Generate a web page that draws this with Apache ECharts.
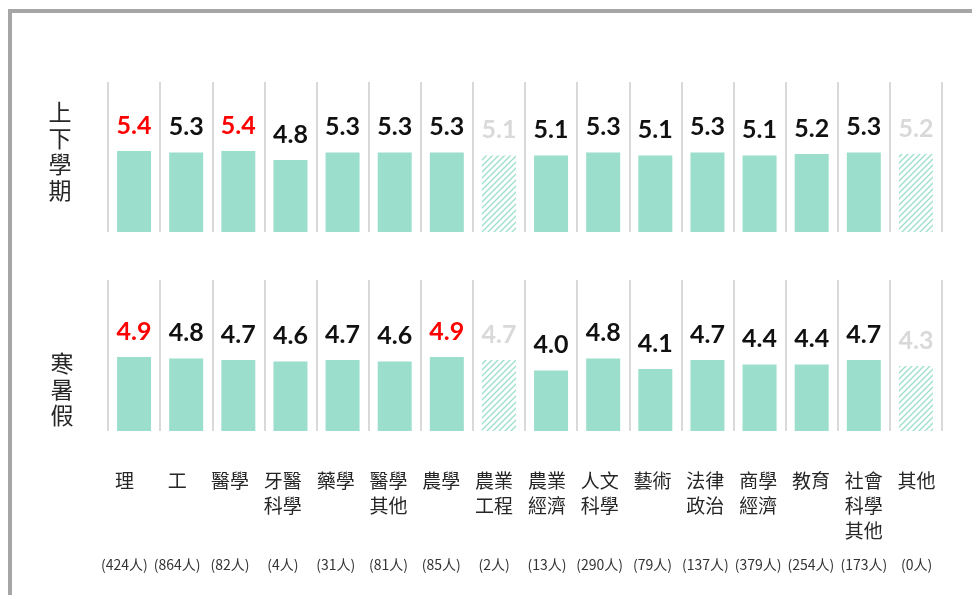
<!DOCTYPE html>
<html>
<head>
<meta charset="utf-8">
<script src="https://cdn.jsdelivr.net/npm/echarts@6/dist/echarts.min.js"></script>
<style>
  html, body { margin: 0; padding: 0; background: #fff; }
  #chart { width: 972px; height: 595px; }
</style>
</head>
<body>
<div id="chart"></div>
<script>
const categories = ['理', '工', '醫學', '牙醫\n科學', '藥學', '醫學\n其他', '農學', '農業\n工程', '農業\n經濟', '人文\n科學', '藝術', '法律\n政治', '商學\n經濟', '教育', '社會\n科學\n其他', '其他'];
const studentCounts = [424, 864, 82, 4, 31, 81, 85, 2, 13, 290, 79, 137, 379, 254, 173, 0];
const semesterValues = [5.4, 5.3, 5.4, 4.8, 5.3, 5.3, 5.3, 5.1, 5.1, 5.3, 5.1, 5.3, 5.1, 5.2, 5.3, 5.2];
const vacationValues = [4.9, 4.8, 4.7, 4.6, 4.7, 4.6, 4.9, 4.7, 4.0, 4.8, 4.1, 4.7, 4.4, 4.4, 4.7, 4.3];
// 樣本過少，以斜線表示
const lowSampleIndex = [7, 15];

const barColor = '#9bdecb';

// 斜線圖樣
let tile = document.createElement('canvas');
tile.width = 6;
tile.height = 6;
let ctx = tile.getContext('2d');
ctx.strokeStyle = barColor;
ctx.lineWidth = 1.3;
ctx.beginPath();
ctx.moveTo(-1, 7); ctx.lineTo(7, -1);
ctx.moveTo(-1, 1); ctx.lineTo(1, -1);
ctx.moveTo(5, 7); ctx.lineTo(7, 5);
ctx.stroke();
const hatch = { image: tile, repeat: 'repeat' };

function buildData(values) {
  let solid = values.filter((v, i) => !lowSampleIndex.includes(i));
  let top = Math.max(...solid);
  return values.map((v, i) => {
    if (lowSampleIndex.includes(i)) {
      return { value: v, itemStyle: { color: hatch }, label: { color: '#d9d9d9' } };
    }
    return { value: v, label: { color: v === top ? '#ff0000' : '#111111' } };
  });
}

function panelAxis(gridIndex) {
  return {
    type: 'category',
    gridIndex: gridIndex,
    data: categories,
    axisLine: { show: false },
    axisTick: { show: false },
    axisLabel: { show: false, interval: 0 },
    splitLine: { show: true, interval: 0, lineStyle: { color: '#d9d9d9', width: 2 } },
  };
}

function barSeries(axisIndex, values) {
  return {
    type: 'bar',
    xAxisIndex: axisIndex,
    yAxisIndex: axisIndex,
    barWidth: 34,
    itemStyle: { color: barColor },
    label: {
      show: true,
      position: 'top',
      distance: 13,
      fontFamily: 'Lato',
      fontWeight: 'bold',
      fontSize: 25,
      formatter: (p) => p.value.toFixed(1),
    },
    data: buildData(values),
  };
}

let myChart = echarts.init(document.getElementById('chart'));
let option;

option = {
  backgroundColor: '#ffffff',
  animation: false,
  grid: [
    { left: 108, right: 30, top: 82, height: 150 },
    { left: 108, right: 30, top: 280, height: 151 },
    { left: 98, right: 29, top: 420, height: 10 },
  ],
  xAxis: [
    panelAxis(0),
    panelAxis(1),
    {
      type: 'category',
      gridIndex: 2,
      position: 'bottom',
      data: categories,
      axisLine: { show: false },
      axisTick: { show: false },
      axisLabel: {
        interval: 0,
        margin: 38,
        fontFamily: 'Noto Sans CJK TC',
        fontSize: 19,
        lineHeight: 25,
        color: '#262626',
      },
    },
    {
      type: 'category',
      gridIndex: 2,
      position: 'bottom',
      data: studentCounts,
      axisLine: { show: false },
      axisTick: { show: false },
      axisLabel: {
        interval: 0,
        margin: 126,
        fontFamily: 'Noto Sans CJK TC',
        fontSize: 14,
        lineHeight: 17,
        color: '#333333',
        formatter: (v) => '(' + v + '人)',
      },
    },
  ],
  yAxis: [
    { type: 'value', gridIndex: 0, min: 0, max: 10, show: false },
    { type: 'value', gridIndex: 1, min: 0, max: 10, show: false },
    { type: 'value', gridIndex: 2, show: false },
  ],
  graphic: [
    {
      type: 'polyline',
      shape: { points: [[10, 595], [10, 11], [972, 11]] },
      style: { stroke: '#a6a6a6', lineWidth: 4, fill: null },
    },
    {
      type: 'text',
      x: 60,
      y: 151,
      style: {
        text: '上\n下\n學\n期',
        fontFamily: 'Noto Sans CJK TC',
        fontSize: 23,
        lineHeight: 26,
        fill: '#262626',
        align: 'center',
        verticalAlign: 'middle',
      },
    },
    {
      type: 'text',
      x: 62,
      y: 389,
      style: {
        text: '寒\n暑\n假',
        fontFamily: 'Noto Sans CJK TC',
        fontSize: 23,
        lineHeight: 26,
        fill: '#262626',
        align: 'center',
        verticalAlign: 'middle',
      },
    },
  ],
  series: [barSeries(0, semesterValues), barSeries(1, vacationValues)],
};

option && myChart.setOption(option);
</script>
</body>
</html>
